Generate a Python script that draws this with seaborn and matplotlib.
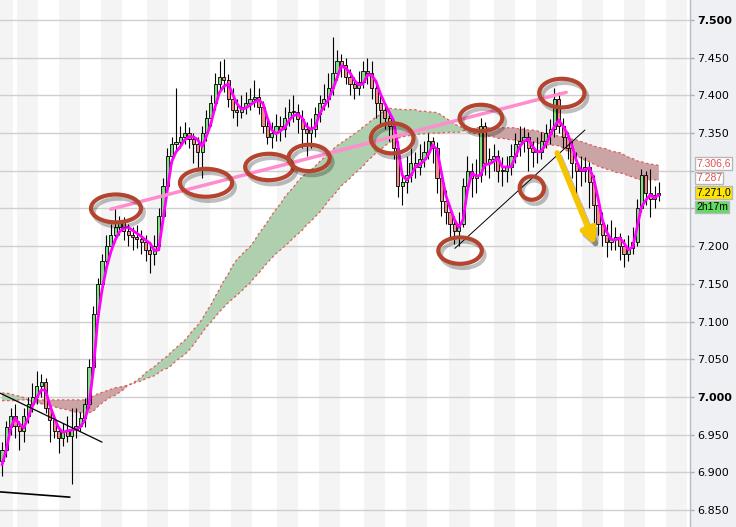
import numpy as np
import pandas as pd
import seaborn as sns
import matplotlib.pyplot as plt
from matplotlib.patches import Ellipse
import matplotlib.patheffects as pe

# ---- candle data (price per bar) ----
opens = [6.915, 6.930, 6.960, 6.975, 6.962, 6.955, 6.975, 6.990, 7.000, 7.015,
         7.020, 6.985, 6.970, 6.955, 6.945, 6.955, 6.948, 6.958, 6.962, 6.972,
         6.990, 7.040, 7.110, 7.150, 7.180, 7.200, 7.215, 7.225, 7.232, 7.220,
         7.215, 7.212, 7.210, 7.205, 7.195, 7.190, 7.200, 7.240, 7.280, 7.320,
         7.335, 7.338, 7.345, 7.350, 7.342, 7.335, 7.325, 7.350, 7.370, 7.390,
         7.415, 7.425, 7.420, 7.395, 7.380, 7.378, 7.385, 7.390, 7.395, 7.398,
         7.385, 7.360, 7.345, 7.350, 7.360, 7.355, 7.370, 7.378, 7.378, 7.368,
         7.355, 7.350, 7.355, 7.375, 7.390, 7.395, 7.410, 7.430, 7.445, 7.440,
         7.425, 7.415, 7.410, 7.418, 7.432, 7.430, 7.410, 7.390, 7.380, 7.370,
         7.360, 7.330, 7.280, 7.285, 7.295, 7.310, 7.305, 7.315, 7.325, 7.340,
         7.330, 7.290, 7.260, 7.245, 7.230, 7.220, 7.230, 7.280, 7.300, 7.290,
         7.295, 7.360, 7.310, 7.315, 7.320, 7.300, 7.300, 7.305, 7.320, 7.335,
         7.340, 7.345, 7.330, 7.325, 7.325, 7.340, 7.350, 7.355, 7.395, 7.360,
         7.345, 7.330, 7.310, 7.300, 7.300, 7.305, 7.285, 7.255, 7.230, 7.215,
         7.205, 7.210, 7.212, 7.200, 7.190, 7.197, 7.205, 7.250, 7.295, 7.270,
         7.262, 7.268]
closes = [6.930, 6.960, 6.975, 6.962, 6.955, 6.975, 6.990, 7.000, 7.015, 7.020,
          6.985, 6.970, 6.955, 6.945, 6.955, 6.948, 6.958, 6.962, 6.972, 6.990,
          7.040, 7.110, 7.150, 7.180, 7.200, 7.215, 7.225, 7.232, 7.220, 7.215,
          7.212, 7.210, 7.205, 7.195, 7.190, 7.200, 7.240, 7.280, 7.320, 7.335,
          7.338, 7.345, 7.350, 7.342, 7.335, 7.325, 7.350, 7.370, 7.390, 7.415,
          7.425, 7.420, 7.395, 7.380, 7.378, 7.385, 7.390, 7.395, 7.398, 7.385,
          7.360, 7.345, 7.350, 7.360, 7.355, 7.370, 7.378, 7.378, 7.368, 7.355,
          7.350, 7.355, 7.375, 7.390, 7.395, 7.410, 7.430, 7.445, 7.440, 7.425,
          7.415, 7.410, 7.418, 7.432, 7.430, 7.410, 7.390, 7.380, 7.370, 7.360,
          7.330, 7.280, 7.285, 7.295, 7.310, 7.305, 7.315, 7.325, 7.340, 7.330,
          7.290, 7.260, 7.245, 7.230, 7.220, 7.230, 7.280, 7.300, 7.290, 7.295,
          7.360, 7.310, 7.315, 7.320, 7.300, 7.300, 7.305, 7.320, 7.335, 7.340,
          7.345, 7.330, 7.325, 7.325, 7.340, 7.350, 7.355, 7.395, 7.360, 7.345,
          7.330, 7.310, 7.300, 7.300, 7.305, 7.285, 7.255, 7.230, 7.215, 7.205,
          7.210, 7.212, 7.200, 7.190, 7.197, 7.205, 7.250, 7.295, 7.270, 7.262,
          7.268, 7.271]
highs = [6.940, 6.968, 6.985, 6.990, 6.968, 6.985, 7.000, 7.018, 7.035, 7.030,
         7.025, 6.990, 6.975, 6.960, 6.965, 6.975, 6.985, 6.985, 6.980, 6.998,
         7.050, 7.120, 7.158, 7.190, 7.215, 7.230, 7.250, 7.240, 7.238, 7.230,
         7.225, 7.228, 7.222, 7.215, 7.205, 7.215, 7.250, 7.290, 7.330, 7.345,
         7.410, 7.360, 7.365, 7.358, 7.350, 7.345, 7.360, 7.380, 7.400, 7.430,
         7.445, 7.448, 7.428, 7.410, 7.395, 7.400, 7.405, 7.410, 7.420, 7.410,
         7.392, 7.370, 7.365, 7.375, 7.372, 7.385, 7.395, 7.400, 7.388, 7.380,
         7.365, 7.370, 7.385, 7.400, 7.415, 7.430, 7.478, 7.460, 7.455, 7.450,
         7.435, 7.425, 7.432, 7.445, 7.450, 7.445, 7.420, 7.400, 7.390, 7.380,
         7.365, 7.340, 7.300, 7.320, 7.330, 7.325, 7.335, 7.340, 7.350, 7.345,
         7.338, 7.300, 7.275, 7.255, 7.240, 7.245, 7.290, 7.320, 7.310, 7.315,
         7.370, 7.365, 7.330, 7.335, 7.328, 7.318, 7.320, 7.335, 7.350, 7.360,
         7.358, 7.352, 7.340, 7.345, 7.352, 7.362, 7.368, 7.410, 7.405, 7.370,
         7.352, 7.340, 7.325, 7.320, 7.318, 7.312, 7.295, 7.262, 7.245, 7.230,
         7.235, 7.225, 7.218, 7.210, 7.215, 7.225, 7.262, 7.302, 7.300, 7.302,
         7.280, 7.285]
lows = [6.895, 6.920, 6.950, 6.945, 6.930, 6.940, 6.965, 6.980, 6.990, 7.000,
        6.978, 6.940, 6.945, 6.925, 6.935, 6.940, 6.885, 6.945, 6.955, 6.960,
        6.985, 7.030, 7.100, 7.140, 7.170, 7.195, 7.205, 7.215, 7.208, 7.200,
        7.195, 7.198, 7.190, 7.180, 7.165, 7.175, 7.195, 7.232, 7.270, 7.310,
        7.325, 7.330, 7.335, 7.330, 7.310, 7.300, 7.290, 7.340, 7.360, 7.380,
        7.405, 7.405, 7.385, 7.370, 7.360, 7.370, 7.375, 7.380, 7.385, 7.375,
        7.350, 7.335, 7.330, 7.340, 7.340, 7.345, 7.360, 7.365, 7.350, 7.330,
        7.320, 7.330, 7.345, 7.365, 7.380, 7.385, 7.400, 7.420, 7.425, 7.415,
        7.400, 7.395, 7.400, 7.410, 7.415, 7.395, 7.370, 7.360, 7.355, 7.340,
        7.315, 7.265, 7.255, 7.270, 7.285, 7.290, 7.295, 7.305, 7.315, 7.310,
        7.270, 7.240, 7.230, 7.210, 7.203, 7.200, 7.225, 7.270, 7.265, 7.270,
        7.285, 7.295, 7.290, 7.300, 7.285, 7.280, 7.285, 7.295, 7.310, 7.320,
        7.325, 7.300, 7.305, 7.310, 7.315, 7.330, 7.335, 7.345, 7.350, 7.330,
        7.315, 7.290, 7.260, 7.280, 7.285, 7.250, 7.225, 7.215, 7.200, 7.185,
        7.195, 7.195, 7.182, 7.172, 7.180, 7.190, 7.200, 7.245, 7.255, 7.238,
        7.250, 7.260]

# magenta moving average
ma_line = [6.910, 6.930, 6.959, 6.972, 6.964, 6.959, 6.972, 6.988, 6.999, 7.009,
           7.009, 6.989, 6.973, 6.959, 6.953, 6.955, 6.956, 6.957, 6.960, 6.969,
           6.989, 7.036, 7.102, 7.142, 7.171, 7.192, 7.208, 7.219, 7.224, 7.225,
           7.221, 7.217, 7.213, 7.208, 7.204, 7.194, 7.195, 7.235, 7.274, 7.312,
           7.325, 7.332, 7.341, 7.345, 7.345, 7.341, 7.332, 7.346, 7.362, 7.385,
           7.404, 7.412, 7.415, 7.402, 7.389, 7.382, 7.383, 7.387, 7.391, 7.394,
           7.389, 7.370, 7.354, 7.349, 7.353, 7.357, 7.367, 7.373, 7.375, 7.370,
           7.359, 7.355, 7.358, 7.375, 7.385, 7.394, 7.407, 7.423, 7.439, 7.436,
           7.430, 7.420, 7.414, 7.415, 7.427, 7.427, 7.418, 7.402, 7.389, 7.378,
           7.367, 7.334, 7.294, 7.288, 7.293, 7.305, 7.308, 7.313, 7.321, 7.334,
           7.328, 7.298, 7.268, 7.251, 7.235, 7.225, 7.235, 7.274, 7.297, 7.293,
           7.294, 7.308, 7.309, 7.312, 7.317, 7.305, 7.305, 7.305, 7.318, 7.332,
           7.339, 7.342, 7.332, 7.325, 7.326, 7.335, 7.347, 7.359, 7.367, 7.359,
           7.349, 7.334, 7.314, 7.301, 7.301, 7.304, 7.290, 7.264, 7.235, 7.219,
           7.209, 7.208, 7.211, 7.204, 7.195, 7.199, 7.225, 7.252, 7.261, 7.268,
           7.264, 7.268]

# cloud boundaries
span_a = [7.005, 7.005, 7.004, 7.002, 7.001, 6.999, 6.996, 6.993, 6.992, 6.991,
          6.989, 6.988, 6.987, 6.985, 6.984, 6.983, 6.981, 6.980, 6.979, 6.979,
          6.979, 6.981, 6.987, 6.992, 6.996, 7.000, 7.002, 7.006, 7.010, 7.016,
          7.018, 7.022, 7.026, 7.032, 7.036, 7.040, 7.045, 7.050, 7.054, 7.060,
          7.065, 7.070, 7.075, 7.082, 7.089, 7.095, 7.103, 7.113, 7.122, 7.133,
          7.143, 7.154, 7.163, 7.174, 7.182, 7.188, 7.194, 7.199, 7.207, 7.216,
          7.224, 7.232, 7.241, 7.249, 7.256, 7.265, 7.272, 7.278, 7.286, 7.292,
          7.297, 7.301, 7.306, 7.312, 7.317, 7.322, 7.328, 7.333, 7.337, 7.341,
          7.345, 7.349, 7.353, 7.358, 7.362, 7.367, 7.371, 7.375, 7.381, 7.383,
          7.382, 7.382, 7.381, 7.381, 7.381, 7.381, 7.379, 7.379, 7.378, 7.378,
          7.377, 7.374, 7.370, 7.366, 7.362, 7.359, 7.357, 7.353, 7.350, 7.349,
          7.347, 7.347, 7.346, 7.345, 7.343, 7.343, 7.342, 7.341, 7.341, 7.339,
          7.338, 7.338, 7.337, 7.337, 7.335, 7.335, 7.334, 7.334, 7.333, 7.330,
          7.326, 7.324, 7.320, 7.317, 7.314, 7.312, 7.309, 7.306, 7.304, 7.302,
          7.301, 7.298, 7.297, 7.296, 7.293, 7.292, 7.289, 7.288, 7.288, 7.288,
          7.288, 7.287]
span_b = [6.995, 6.995, 6.995, 6.995, 6.996, 6.996, 6.996, 6.996, 6.996, 6.996,
          6.996, 6.996, 6.996, 6.996, 6.996, 6.996, 6.996, 6.996, 6.996, 6.996,
          6.999, 7.001, 7.004, 7.006, 7.008, 7.010, 7.012, 7.013, 7.014, 7.016,
          7.017, 7.020, 7.021, 7.024, 7.026, 7.028, 7.032, 7.036, 7.038, 7.042,
          7.048, 7.052, 7.056, 7.062, 7.069, 7.077, 7.085, 7.093, 7.099, 7.106,
          7.113, 7.119, 7.125, 7.130, 7.135, 7.140, 7.146, 7.151, 7.158, 7.164,
          7.171, 7.178, 7.184, 7.190, 7.195, 7.200, 7.205, 7.211, 7.216, 7.221,
          7.228, 7.233, 7.239, 7.245, 7.252, 7.260, 7.266, 7.273, 7.280, 7.285,
          7.290, 7.296, 7.301, 7.306, 7.313, 7.318, 7.324, 7.328, 7.333, 7.337,
          7.341, 7.343, 7.345, 7.346, 7.347, 7.347, 7.349, 7.349, 7.350, 7.350,
          7.350, 7.350, 7.351, 7.351, 7.351, 7.351, 7.353, 7.354, 7.355, 7.357,
          7.357, 7.357, 7.357, 7.357, 7.357, 7.357, 7.357, 7.357, 7.357, 7.355,
          7.355, 7.354, 7.354, 7.353, 7.351, 7.350, 7.349, 7.347, 7.346, 7.345,
          7.343, 7.342, 7.341, 7.339, 7.337, 7.335, 7.333, 7.331, 7.330, 7.329,
          7.326, 7.325, 7.324, 7.321, 7.318, 7.316, 7.313, 7.312, 7.310, 7.309,
          7.308, 7.307]

# session shading (bar index where each grey band starts)
shade_starts = [-2.4, 3.45, 13.1, 22.8, 33.3, 43.0, 52.6, 63.2, 72.9, 83.2,
                92.9, 102.8, 113.1, 122.8, 133.3, 143.0, 152.6]
price_ticks = [6.85, 6.90, 6.95, 7.00, 7.05, 7.10, 7.15, 7.20, 7.25, 7.30,
               7.35, 7.40, 7.45, 7.50]
# ticks whose labels sit under the value boxes (not shown in the original)
hidden_ticks = [7.25, 7.30]

# right-hand value boxes: text, text colour, box colour, centre y in pixels
value_boxes = [('7.306,6', '#e05050', 'white', 163.5),
               ('7.287', '#e05050', 'white', 178),
               ('7.271,0', 'black', '#ffe600', 192.5),
               ('2h17m', 'black', '#5fdc5f', 207)]

# hand-drawn annotations: (bar index, price, width in bars, height in price)
circles = [(26.2, 7.250, 11.5, 0.037), (46.9, 7.284, 12.0, 0.037),
           (61.4, 7.305, 11.0, 0.035), (70.6, 7.317, 9.5, 0.035),
           (89.7, 7.343, 9.8, 0.040), (110.1, 7.370, 9.8, 0.035),
           (128.7, 7.403, 10.4, 0.038), (105.3, 7.194, 10.0, 0.035),
           (121.8, 7.277, 5.6, 0.031)]

df = pd.DataFrame({'bar': np.arange(len(closes)), 'open': opens, 'close': closes,
                   'high': highs, 'low': lows, 'ma': ma_line,
                   'span_a': span_a, 'span_b': span_b})

sns.set_style("white")
plt.rcParams['font.family'] = ['DejaVu Sans']

fig = plt.figure(figsize=(7.36, 5.27), dpi=100, facecolor='#eef0f3')
ax = fig.add_axes([0, 0, 690 / 736, 1])
ax.set_facecolor('white')

for s in shade_starts:
    ax.axvspan(s, s + 4.9, color='#f4f4f4', lw=0, zorder=0)
for t in price_ticks:
    ax.axhline(t, color='#cfcfcf', lw=1, zorder=1)

# cloud
up = (df['span_a'] >= df['span_b']).values
ax.fill_between(df['bar'], df['span_a'], df['span_b'], where=up, interpolate=True,
                color='#afd0af', lw=0, zorder=2)
ax.fill_between(df['bar'], df['span_a'], df['span_b'], where=~up, interpolate=True,
                color='#cba5a5', lw=0, zorder=2)
for col in ['span_a', 'span_b']:
    sns.lineplot(data=df, x='bar', y=col, ax=ax, color='#e25c5c', lw=0.9,
                 linestyle=(0, (2, 2)), zorder=3)

# candles
ax.vlines(df['bar'], df['low'], df['high'], color='black', lw=0.8, zorder=4)
body_low = np.minimum(df['open'], df['close'])
body_h = np.maximum((df['close'] - df['open']).abs(), 0.0012)
colors = np.where(df['close'] >= df['open'], '#7fe07f', '#f08a82')
ax.bar(df['bar'], body_h, bottom=body_low, width=0.72, color=colors,
       edgecolor='black', lw=0.6, zorder=5)

sns.lineplot(data=df, x='bar', y='ma', ax=ax, color='#ff00ff', lw=2, zorder=6)

# trend lines
ax.plot([25.0, 129.7], [7.249, 7.404], color='#ff8ccc', lw=2.5, zorder=7,
        solid_capstyle='round')
ax.plot([-0.46, 23.0], [7.005, 6.940], color='black', lw=0.9, zorder=7)
ax.plot([-0.46, 15.6], [6.874, 6.867], color='black', lw=1.2, zorder=7)
ax.plot([104.1, 134.0], [7.197, 7.354], color='black', lw=0.7, zorder=7)

shadow = [pe.SimpleLineShadow(offset=(2, -3), shadow_color='black', alpha=0.25), pe.Normal()]
for cx, cy, w, h in circles:
    e = Ellipse((cx, cy), w, h, fill=False, edgecolor='#b3452f', lw=3, zorder=8)
    e.set_path_effects(shadow)
    ax.add_patch(e)

ax.annotate('', xy=(136.6, 7.198), xytext=(127.4, 7.327),
            arrowprops=dict(arrowstyle='-|>', color='#f7c400', lw=4, mutation_scale=22,
                            path_effects=shadow), zorder=9)

ax.set_xlim(-0.46, 158.16)
ax.set_ylim(6.8274, 7.5265)
ax.set_xticks([])
ax.set_xlabel('')
ax.set_ylabel('')
ax.yaxis.tick_right()
ax.set_yticks(price_ticks)
ax.set_yticklabels(['' if t in hidden_ticks else '%.3f' % t for t in price_ticks])
ax.tick_params(axis='y', labelsize=8, length=3, width=1, color='#a8b0b8', pad=2,
               labelcolor='black')
for lab, t in zip(ax.get_yticklabels(), price_ticks):
    if t in (7.50, 7.00):
        lab.set_fontweight('bold')
for side in ['top', 'left', 'bottom']:
    ax.spines[side].set_visible(False)
ax.spines['right'].set_color('#b4bcc4')
ax.spines['right'].set_linewidth(1)

# price boxes on the axis
for txt, tc, fc, ypx in value_boxes:
    fig.text(696 / 736, 1 - ypx / 527, txt, fontsize=7.5, color=tc, va='center',
             ha='left', family=['Liberation Sans', 'DejaVu Sans'],
             bbox=dict(boxstyle='square,pad=0.1', fc=fc, ec='#b8b8b8', lw=1))

fig.savefig('out.png', dpi=100, facecolor=fig.get_facecolor())
